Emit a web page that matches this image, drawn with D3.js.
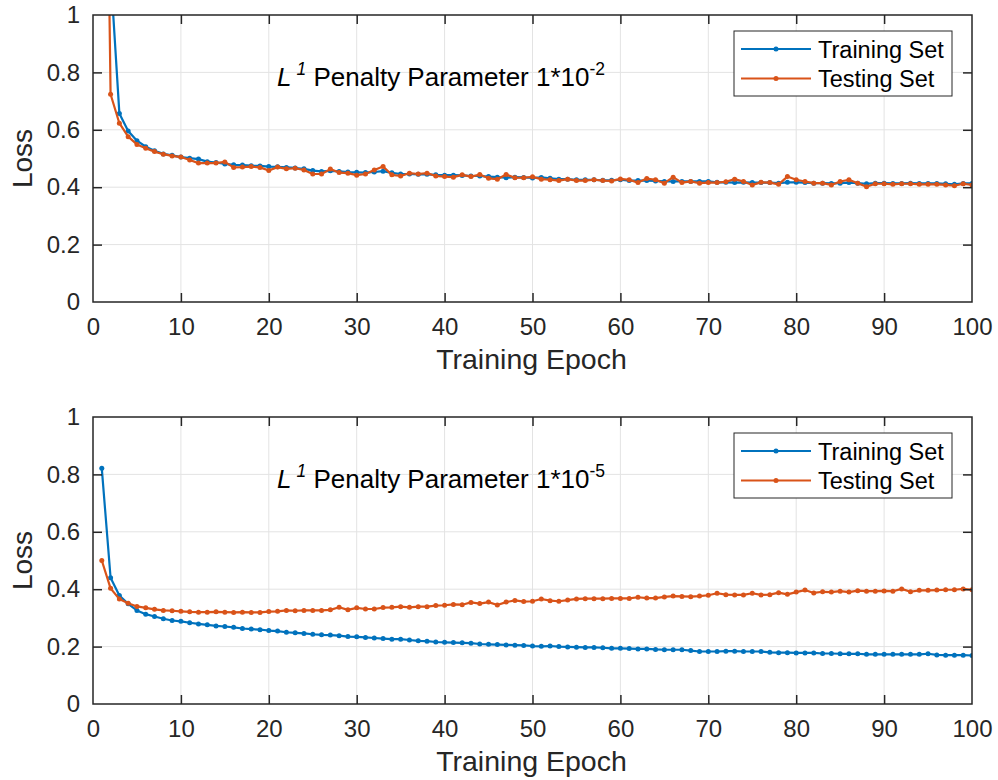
<!DOCTYPE html>
<html>
<head>
<meta charset="utf-8">
<script src="https://cdn.jsdelivr.net/npm/d3@7"></script>
<style>
  html, body { margin: 0; padding: 0; background: #ffffff; }
  svg { display: block; font-family: "Liberation Sans", Arial, Helvetica, sans-serif; }
</style>
</head>
<body>
<svg id="chart" width="998" height="780"></svg>
<script>
// Loss per training epoch, two L1 penalty settings
const epochs = d3.range(1, 101);
const xTicks = [0, 10, 20, 30, 40, 50, 60, 70, 80, 90, 100];
const yTicks = [0, 0.2, 0.4, 0.6, 0.8, 1];
const yTickLabels = ["0", "0.2", "0.4", "0.6", "0.8", "1"];
const seriesNames = ["Training Set", "Testing Set"];
const penaltyExponents = ["-2", "-5"];

// penalty 1e-2
const trainLossA = [
  2.6, 1.15, 0.657, 0.596, 0.562, 0.541, 0.527, 0.516, 0.511, 0.505,
  0.501, 0.498, 0.489, 0.486, 0.481, 0.478, 0.477, 0.475, 0.474, 0.472,
  0.471, 0.469, 0.467, 0.464, 0.458, 0.455, 0.457, 0.455, 0.453, 0.452,
  0.451, 0.453, 0.456, 0.450, 0.446, 0.446, 0.445, 0.445, 0.443, 0.442,
  0.442, 0.441, 0.439, 0.439, 0.437, 0.435, 0.433, 0.435, 0.434, 0.432,
  0.434, 0.431, 0.428, 0.428, 0.426, 0.426, 0.426, 0.424, 0.424, 0.426,
  0.423, 0.423, 0.423, 0.422, 0.420, 0.420, 0.420, 0.420, 0.420, 0.420,
  0.417, 0.417, 0.416, 0.417, 0.416, 0.416, 0.416, 0.414, 0.417, 0.417,
  0.416, 0.414, 0.414, 0.413, 0.414, 0.416, 0.414, 0.412, 0.414, 0.414,
  0.413, 0.413, 0.414, 0.413, 0.413, 0.413, 0.412, 0.410, 0.413, 0.413
];
const testLossA = [
  3.0, 0.724, 0.623, 0.576, 0.549, 0.536, 0.524, 0.515, 0.509, 0.505,
  0.495, 0.484, 0.484, 0.484, 0.488, 0.469, 0.470, 0.472, 0.469, 0.458,
  0.470, 0.464, 0.466, 0.460, 0.446, 0.446, 0.463, 0.451, 0.449, 0.442,
  0.446, 0.460, 0.472, 0.443, 0.439, 0.449, 0.446, 0.449, 0.439, 0.437,
  0.435, 0.443, 0.437, 0.444, 0.431, 0.428, 0.444, 0.433, 0.433, 0.436,
  0.428, 0.426, 0.423, 0.428, 0.423, 0.423, 0.426, 0.423, 0.422, 0.429,
  0.426, 0.416, 0.430, 0.426, 0.414, 0.435, 0.416, 0.420, 0.414, 0.416,
  0.416, 0.419, 0.428, 0.420, 0.408, 0.417, 0.416, 0.410, 0.437, 0.426,
  0.420, 0.414, 0.414, 0.408, 0.420, 0.426, 0.414, 0.402, 0.412, 0.412,
  0.410, 0.412, 0.412, 0.410, 0.410, 0.410, 0.408, 0.405, 0.412, 0.408
];

// penalty 1e-5
const trainLossB = [
  0.821, 0.440, 0.378, 0.349, 0.326, 0.313, 0.305, 0.297, 0.291, 0.288,
  0.283, 0.279, 0.276, 0.272, 0.270, 0.267, 0.263, 0.261, 0.259, 0.256,
  0.254, 0.250, 0.248, 0.246, 0.243, 0.241, 0.240, 0.238, 0.235, 0.234,
  0.232, 0.230, 0.228, 0.226, 0.226, 0.223, 0.220, 0.219, 0.216, 0.215,
  0.214, 0.213, 0.212, 0.209, 0.208, 0.207, 0.206, 0.205, 0.204, 0.202,
  0.201, 0.202, 0.200, 0.199, 0.198, 0.197, 0.197, 0.196, 0.194, 0.194,
  0.193, 0.192, 0.192, 0.190, 0.189, 0.189, 0.189, 0.186, 0.183, 0.183,
  0.183, 0.184, 0.184, 0.183, 0.183, 0.183, 0.180, 0.179, 0.179, 0.178,
  0.178, 0.178, 0.176, 0.176, 0.175, 0.175, 0.175, 0.173, 0.173, 0.173,
  0.173, 0.173, 0.173, 0.173, 0.175, 0.171, 0.170, 0.170, 0.170, 0.169
];
const testLossB = [
  0.500, 0.403, 0.366, 0.351, 0.340, 0.335, 0.330, 0.326, 0.325, 0.323,
  0.321, 0.320, 0.320, 0.321, 0.320, 0.319, 0.320, 0.319, 0.319, 0.322,
  0.323, 0.326, 0.325, 0.326, 0.326, 0.326, 0.328, 0.337, 0.328, 0.335,
  0.331, 0.331, 0.336, 0.337, 0.339, 0.337, 0.339, 0.339, 0.343, 0.344,
  0.347, 0.346, 0.354, 0.350, 0.355, 0.345, 0.355, 0.361, 0.357, 0.358,
  0.366, 0.360, 0.358, 0.362, 0.366, 0.367, 0.367, 0.367, 0.368, 0.368,
  0.368, 0.372, 0.369, 0.369, 0.373, 0.376, 0.375, 0.374, 0.376, 0.379,
  0.386, 0.381, 0.380, 0.380, 0.386, 0.380, 0.381, 0.388, 0.382, 0.390,
  0.397, 0.387, 0.391, 0.390, 0.393, 0.390, 0.395, 0.393, 0.393, 0.394,
  0.393, 0.401, 0.391, 0.396, 0.396, 0.397, 0.398, 0.398, 0.401, 0.398
];

const colors = ["#0072BD", "#D95319"];
const axisColor = "#262626";
const gridColor = "#e3e3e3";

const svg = d3.select("#chart");

const panels = [
  { top: 15, bottom: 302, series: [trainLossA, testLossA], exp: penaltyExponents[0] },
  { top: 417, bottom: 704, series: [trainLossB, testLossB], exp: penaltyExponents[1] }
];

const left = 93, right = 972;
const x = d3.scaleLinear().domain([0, 100]).range([left, right]);

panels.forEach((p, pi) => {
  const y = d3.scaleLinear().domain([0, 1]).range([p.bottom, p.top]);
  const g = svg.append("g");
  const clipId = "clip" + pi;
  g.append("clipPath").attr("id", clipId)
    .append("rect").attr("x", left).attr("y", p.top)
    .attr("width", right - left).attr("height", p.bottom - p.top);

  // grid
  g.append("g").selectAll("line").data(xTicks.slice(1, -1)).join("line")
    .attr("x1", d => x(d)).attr("x2", d => x(d))
    .attr("y1", p.top).attr("y2", p.bottom)
    .attr("stroke", gridColor).attr("stroke-width", 1);
  g.append("g").selectAll("line").data(yTicks.slice(1, -1)).join("line")
    .attr("x1", left).attr("x2", right)
    .attr("y1", d => y(d)).attr("y2", d => y(d))
    .attr("stroke", gridColor).attr("stroke-width", 1);

  // series lines with dot markers
  const line = d3.line().x((d, i) => x(epochs[i])).y(d => y(d));
  const plot = g.append("g").attr("clip-path", `url(#${clipId})`);
  p.series.forEach((vals, si) => {
    plot.append("path").datum(vals)
      .attr("d", line).attr("fill", "none")
      .attr("stroke", colors[si]).attr("stroke-width", 2.2)
      .attr("stroke-linejoin", "round");
    plot.append("g").selectAll("circle").data(vals).join("circle")
      .attr("cx", (d, i) => x(epochs[i])).attr("cy", d => y(d))
      .attr("r", 2.5).attr("fill", colors[si]);
  });

  // axes (ticks pointing inward, mirrored on the opposite sides)
  const tickLen = 9;
  const bottomAxis = d3.axisBottom(x).tickValues(xTicks).tickSize(-tickLen).tickPadding(16);
  const topAxis = d3.axisTop(x).tickValues(xTicks).tickSize(-tickLen).tickFormat("");
  const leftAxis = d3.axisLeft(y).tickValues(yTicks).tickSize(-tickLen).tickPadding(13)
    .tickFormat((d, i) => yTickLabels[i]);
  const rightAxis = d3.axisRight(y).tickValues(yTicks).tickSize(-tickLen).tickFormat("");

  const styleAxis = sel => {
    sel.selectAll("path").attr("stroke", axisColor).attr("stroke-width", 1.5);
    sel.selectAll("line").attr("stroke", axisColor).attr("stroke-width", 1.5);
    sel.selectAll("text").attr("fill", axisColor).attr("font-size", 24)
      .attr("font-family", "'Liberation Sans', Arial, sans-serif");
  };
  g.append("g").attr("transform", `translate(0,${p.bottom})`).call(bottomAxis).call(styleAxis)
    .selectAll(".tick line").filter(d => d === 0 || d === 100).remove();
  g.append("g").attr("transform", `translate(0,${p.top})`).call(topAxis).call(styleAxis)
    .selectAll(".tick line").filter(d => d === 0 || d === 100).remove();
  g.append("g").attr("transform", `translate(${left},0)`).call(leftAxis).call(styleAxis)
    .selectAll(".tick line").filter(d => d === 0 || d === 1).remove();
  g.append("g").attr("transform", `translate(${right},0)`).call(rightAxis).call(styleAxis)
    .selectAll(".tick line").filter(d => d === 0 || d === 1).remove();
  g.selectAll(".domain").attr("d", null);
  g.append("rect").attr("x", left).attr("y", p.top)
    .attr("width", right - left).attr("height", p.bottom - p.top)
    .attr("fill", "none").attr("stroke", axisColor).attr("stroke-width", 1.5);

  // axis labels
  g.append("text").attr("x", (left + right) / 2 - 1).attr("y", p.bottom + 67)
    .attr("text-anchor", "middle").attr("font-size", 28.5).attr("fill", axisColor)
    .text("Training Epoch");
  g.append("text")
    .attr("transform", `translate(32,${(p.top + p.bottom) / 2}) rotate(-90)`)
    .attr("text-anchor", "middle").attr("font-size", 28).attr("fill", axisColor)
    .text("Loss");

  // annotation
  const note = g.append("text").attr("x", 277).attr("y", p.top + 71)
    .attr("font-size", 26).attr("fill", "#000");
  note.append("tspan").attr("font-style", "italic").text("L");
  note.append("tspan").attr("font-style", "italic").attr("font-size", 17.5)
    .attr("dx", 5).attr("dy", -11).text("1");
  note.append("tspan").attr("dy", 11).text("\u00a0Penalty Parameter 1*10");
  note.append("tspan").attr("font-size", 17.5).attr("dy", -11).text(p.exp);

  // legend
  const lg = g.append("g").attr("transform", `translate(734,${p.top + 16})`);
  lg.append("rect").attr("width", 218).attr("height", 65)
    .attr("fill", "#fff").attr("stroke", axisColor).attr("stroke-width", 1);
  seriesNames.forEach((name, si) => {
    const cy = 18 + si * 29.5;
    lg.append("line").attr("x1", 7).attr("x2", 77).attr("y1", cy).attr("y2", cy)
      .attr("stroke", colors[si]).attr("stroke-width", 2.2);
    lg.append("circle").attr("cx", 42).attr("cy", cy).attr("r", 2.5).attr("fill", colors[si]);
    lg.append("text").attr("x", 84).attr("y", cy + 8.5)
      .attr("font-size", 23.5).attr("fill", "#000").text(name);
  });
});
</script>
</body>
</html>
